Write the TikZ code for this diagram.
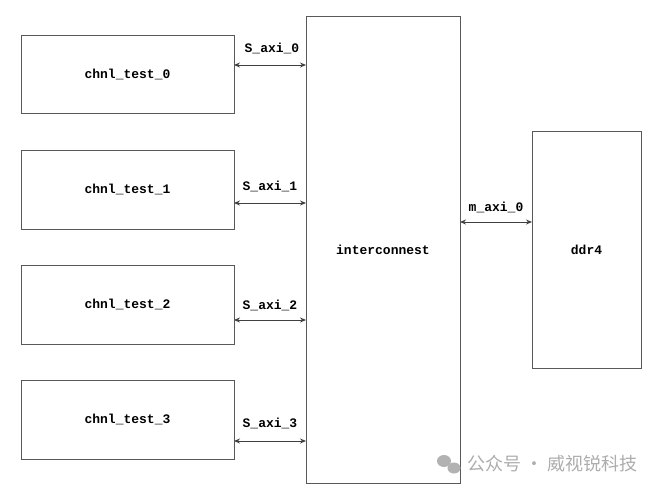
\documentclass[tikz,border=0pt]{standalone}
\usepackage{fontspec}
\setmonofont{Liberation Mono}
\newfontfamily\cjk{Noto Sans CJK SC}
\usetikzlibrary{arrows.meta}
\begin{document}
\begin{tikzpicture}[x=1pt,y=-1pt,
  blk/.style={draw=black!65,line width=1pt,inner sep=0pt,font=\ttfamily\bfseries\fontsize{13}{13}\selectfont},
  bus/.style={draw=black!75,line width=0.9pt,{Stealth[length=6pt,width=5pt]}-{Stealth[length=6pt,width=5pt]}},
  lbl/.style={font=\ttfamily\bfseries\fontsize{13}{13}\selectfont,inner sep=0pt}]
\useasboundingbox (0,0) rectangle (659,491);
\fill[white] (0,0) rectangle (659,491);
% blocks
\node[blk,minimum width=213pt,minimum height=78pt] (c0) at (127.5,74) {chnl\_test\_0};
\node[blk,minimum width=213pt,minimum height=79pt] (c1) at (127.5,189.5) {chnl\_test\_1};
\node[blk,minimum width=213pt,minimum height=79pt] (c2) at (127.5,304.5) {chnl\_test\_2};
\node[blk,minimum width=213pt,minimum height=79pt] (c3) at (127.5,419.5) {chnl\_test\_3};
\node[blk,minimum width=154pt,minimum height=467pt] (ic) at (383,249.5) {interconnest};
\node[blk,minimum width=109pt,minimum height=237pt] (dd) at (586.5,249.5) {ddr4};
% buses
\coordinate (a0) at (234,65); \coordinate (b0) at (306,65);
\coordinate (a1) at (234,203); \coordinate (b1) at (306,203);
\coordinate (a2) at (234,320); \coordinate (b2) at (306,320);
\coordinate (a3) at (234,441); \coordinate (b3) at (306,441);
\coordinate (am) at (460,222); \coordinate (bm) at (532,222);
\draw[bus] (a0) -- (b0);
\draw[bus] (a1) -- (b1);
\draw[bus] (a2) -- (b2);
\draw[bus] (a3) -- (b3);
\draw[bus] (am) -- (bm);
\node[lbl] (l0) at (272,48) {S\_axi\_0};
\node[lbl] (l1) at (270,186) {S\_axi\_1};
\node[lbl] (l2) at (270,305) {S\_axi\_2};
\node[lbl] (l3) at (270,423) {S\_axi\_3};
\node[lbl] (lm) at (496,207) {m\_axi\_0};
% watermark
\fill[black!30] (444,461) ellipse (7pt and 6pt);
\fill[black!30] (454,468) ellipse (6.5pt and 5.5pt);
\node[font=\cjk\fontsize{18}{18}\selectfont,text=black!32,anchor=west,inner sep=0pt] (wm) at (467,464) {公众号 · 威视锐科技};
\end{tikzpicture}
\end{document}
